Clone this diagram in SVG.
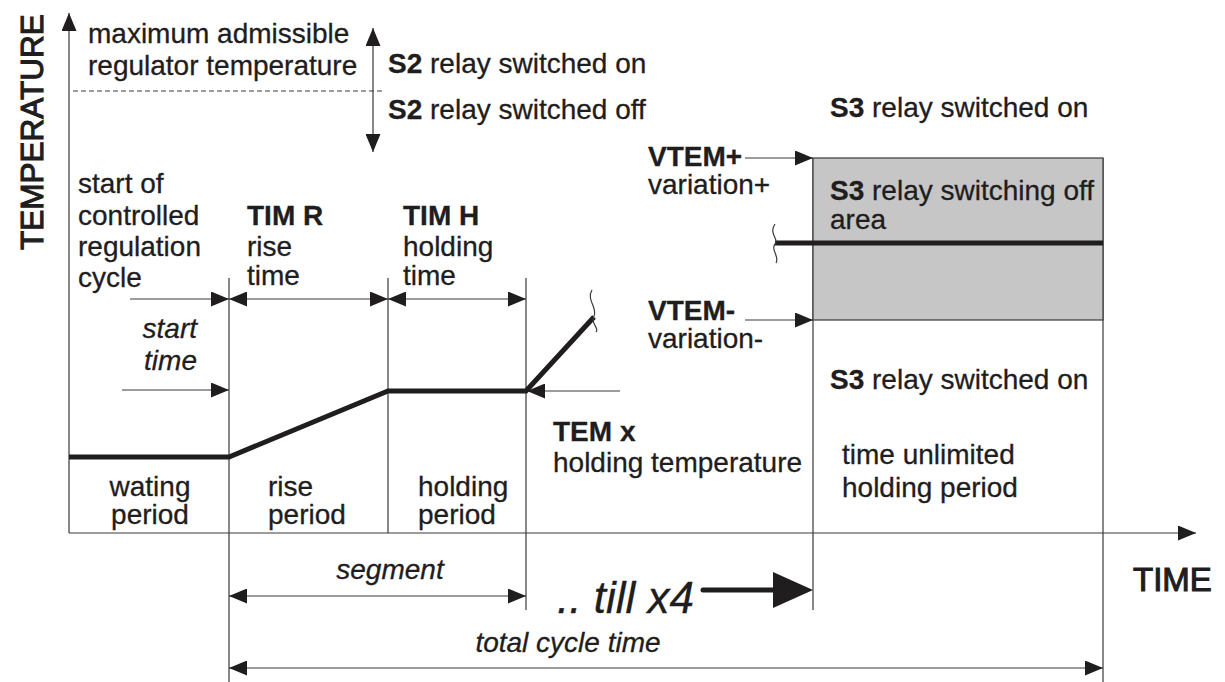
<svg xmlns="http://www.w3.org/2000/svg" width="1225" height="682" viewBox="0 0 1225 682">
<style>
text{font-family:"Liberation Sans",Arial,sans-serif;fill:#1f1d1d;font-size:28px;stroke:#1f1d1d;stroke-width:0.3}
.b{font-weight:bold}
.i{font-style:italic}
.big{stroke-width:1.1}
.thin{stroke:#3a3a3a;stroke-width:1.2;fill:none}
.thick{stroke:#1f1d1d;stroke-width:5;fill:none;stroke-linejoin:miter}
.arr{stroke:#3a3a3a;stroke-width:1.2;fill:none;marker-end:url(#ah)}
.darr{stroke:#3a3a3a;stroke-width:1.2;fill:none;marker-end:url(#ah);marker-start:url(#ah)}
</style>
<defs>
<marker id="ah" markerUnits="userSpaceOnUse" markerWidth="19" markerHeight="15" refX="18" refY="7.5" orient="auto-start-reverse" viewBox="0 0 19 15">
<path d="M0,0 L18,7.5 L0,15 z" fill="#1f1d1d"/>
</marker>
</defs>
<rect width="1225" height="682" fill="#fff"/>
<g id="axes">
<path class="arr" d="M69,533 V13"/>
<path class="arr" d="M69,533 H1196"/>
<text class="big" transform="translate(43,250) rotate(-90)" style="font-size:31.5px">TEMPERATURE</text>
<text class="big" x="1133" y="591" style="font-size:33px">TIME</text>
</g>
<g id="grid">
<path class="thin" d="M229,278 V682 M388,278 V533 M526,278 V610 M813,158 V610 M1103,158 V682"/>
<path class="thin" d="M73,91 H385" stroke-dasharray="5,3"/>
</g>
<g id="s3-area">
<rect x="813" y="158" width="290" height="162" fill="#c6c6c6" stroke="#3a3a3a" stroke-width="1.2"/>
<text x="830" y="200"><tspan class="b">S3</tspan> relay switching off</text>
<text x="830" y="229">area</text>
</g>
<g id="connectors">
<path class="darr" d="M373,28 V152"/>
<path class="arr" d="M130,299 H229"/>
<path class="darr" d="M229,299 H388"/>
<path class="darr" d="M388,299 H526"/>
<path class="arr" d="M122,390 H229"/>
<path class="arr" d="M620,391 H527"/>
<path class="arr" d="M745,158 H813"/>
<path class="arr" d="M745,320 H813"/>
<path class="darr" d="M229,596 H526"/>
<path class="darr" d="M229,668 H1103"/>
<path d="M703,590 H780" stroke="#1f1d1d" stroke-width="5" stroke-linecap="round"/>
<path d="M773,572 L813,590 L773,608 z" fill="#1f1d1d"/>
</g>
<g id="curve">
<path class="thick" d="M69,457 H229 L388,391 H526 L594,317"/>
<path class="thin" d="M592,290 C586,300 598,308 594,316 C590,324 600,328 596,332"/>
<path class="thick" d="M775,243 H1103"/>
<path class="thin" d="M775,224 C768,234 780,240 775,244 C770,250 780,256 776,263"/>
</g>
<g id="labels-top">
<text x="88" y="43">maximum admissible</text>
<text x="88" y="75">regulator temperature</text>
<text x="388" y="73"><tspan class="b">S2</tspan> relay switched on</text>
<text x="388" y="119"><tspan class="b">S2</tspan> relay switched off</text>
<text x="830" y="117"><tspan class="b">S3</tspan> relay switched on</text>
</g>
<g id="labels-cycle">
<text x="78" y="193">start of</text>
<text x="78" y="225">controlled</text>
<text x="78" y="256">regulation</text>
<text x="78" y="287">cycle</text>
<text x="247" y="225" class="b">TIM R</text>
<text x="247" y="256">rise</text>
<text x="247" y="285">time</text>
<text x="403" y="225" class="b">TIM H</text>
<text x="403" y="256">holding</text>
<text x="403" y="285">time</text>
<text x="197" y="338" class="i" text-anchor="end">start</text>
<text x="197" y="370" class="i" text-anchor="end">time</text>
</g>
<g id="labels-periods">
<text x="150" y="496" text-anchor="middle">wating</text>
<text x="150" y="524" text-anchor="middle">period</text>
<text x="268" y="496">rise</text>
<text x="268" y="524">period</text>
<text x="418" y="496">holding</text>
<text x="418" y="524">period</text>
</g>
<g id="labels-temp">
<text x="553" y="441" class="b">TEM x</text>
<text x="553" y="472">holding temperature</text>
<text x="648" y="166" class="b">VTEM+</text>
<text x="648" y="194">variation+</text>
<text x="648" y="320" class="b">VTEM-</text>
<text x="648" y="348">variation-</text>
<text x="830" y="389"><tspan class="b">S3</tspan> relay switched on</text>
<text x="842" y="464">time unlimited</text>
<text x="842" y="497">holding period</text>
</g>
<g id="labels-bottom">
<text x="390" y="579" class="i" text-anchor="middle">segment</text>
<text x="557" y="613" class="i" style="font-size:44px">.. till x4</text>
<text x="568" y="652" class="i" text-anchor="middle">total cycle time</text>
</g>
</svg>
